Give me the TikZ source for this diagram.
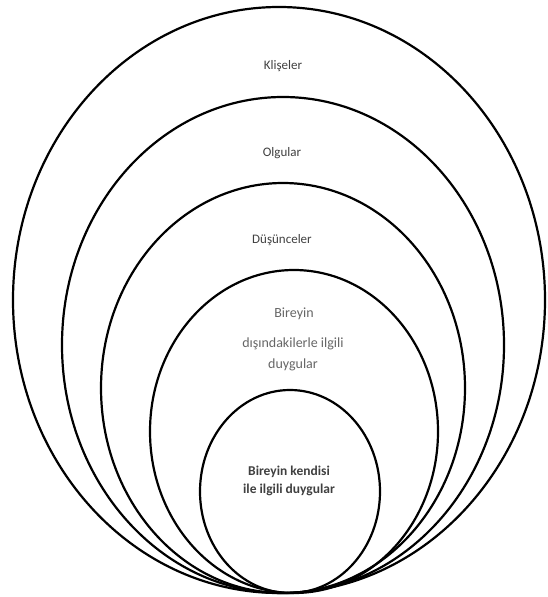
\documentclass[tikz,border=0pt]{standalone}
\usepackage{fontspec}
\setmainfont{Carlito}
\begin{document}
\begin{tikzpicture}[x=1pt,y=-1pt]
    \tikzset{ring/.style={line width=2.2pt},
             layertext/.style={text=black!75, align=center, font=\fontsize{13}{15}\selectfont}}
    \useasboundingbox (0,0) rectangle (547,597);

    % Nested ellipses, all touching at the bottom
    \foreach \cx/\cy/\rx/\ry in {279/300/266/293, 283/345/221/248, 283/388/182/205, 294/431.5/144/161.5, 290/491.5/90/101.5} {
        \draw[ring] (\cx,\cy) ellipse ({\rx pt} and {\ry pt});
    }

    % Layer labels
    \node[layertext] (kliseler) at (283,66) {Klişeler};
    \node[layertext] (olgular) at (282,153) {Olgular};
    \node[layertext] (dusunceler) at (282,240) {Düşünceler};
    \node[layertext, text=black!60, font=\fontsize{14}{21}\selectfont] (bireyin) at (294,314) {Bireyin};
    \node[layertext, text=black!60, font=\fontsize{14}{21}\selectfont] (disindakiler) at (293,354.5) {dışındakilerle ilgili\\duygular};
    \node[layertext, font=\fontsize{13.5}{18}\selectfont\bfseries] (kendisi) at (289,481) {Bireyin kendisi\\ile ilgili duygular};
\end{tikzpicture}
\end{document}
